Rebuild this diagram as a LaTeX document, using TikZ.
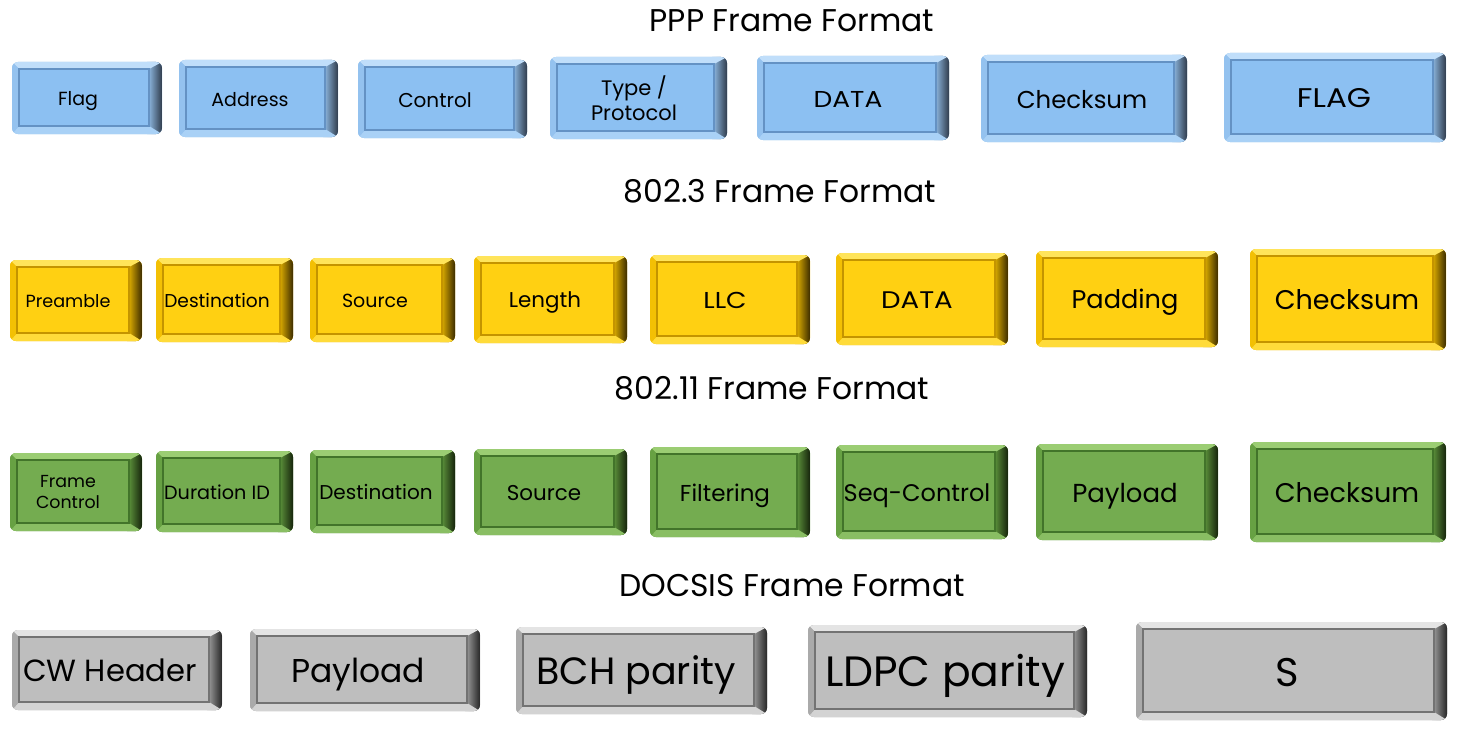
\documentclass[tikz,border=0pt]{standalone}
\usepackage{fontspec}
\setmainfont{Poppins}
\definecolor{Bface}{RGB}{140,192,242}
\definecolor{Bedge}{RGB}{150,195,238}
\definecolor{Blight}{RGB}{192,222,250}
\definecolor{Bdark}{RGB}{48,60,76}
\definecolor{Bline}{RGB}{100,146,196}
\definecolor{Yface}{RGB}{255,208,18}
\definecolor{Yedge}{RGB}{240,188,0}
\definecolor{Ylight}{RGB}{255,228,90}
\definecolor{Ydark}{RGB}{60,44,0}
\definecolor{Yline}{RGB}{196,148,0}
\definecolor{Gface}{RGB}{116,172,80}
\definecolor{Gedge}{RGB}{100,158,64}
\definecolor{Glight}{RGB}{155,205,115}
\definecolor{Gdark}{RGB}{22,36,12}
\definecolor{Gline}{RGB}{66,116,42}
\definecolor{Kface}{RGB}{190,190,190}
\definecolor{Kedge}{RGB}{165,165,165}
\definecolor{Klight}{RGB}{228,228,228}
\definecolor{Kdark}{RGB}{38,38,38}
\definecolor{Kline}{RGB}{115,115,115}
\tikzset{
  titletext/.style={font=\fontsize{15.7pt}{18pt}\selectfont, text height=11pt, text depth=0pt, inner sep=0pt},
}
% #1 name, #2 x1, #3 y1, #4 x2, #5 y2, #6 scheme
\newcommand\mybevelbody[6]{%
  \fill[#6edge, rounded corners=3pt] (#2,#3) rectangle (#4,#5);
  \begin{scope}
    \clip[rounded corners=3pt] (#2,#3) rectangle (#4,#5);
    \shade[left color=#6edge, right color=#6dark] (#4-15,#3) rectangle (#4,#5);
    \fill[#6light] (#2,#3) -- (#4,#3) -- (#4-13,#3+7) -- (#2+7,#3+7) -- cycle;
    \fill[#6light!55!#6face] (#2,#5) -- (#4,#5) -- (#4-13,#5-8) -- (#2+7,#5-8) -- cycle;
    \fill[#6edge!80!#6face] (#2,#3) -- (#2+7,#3+7) -- (#2+7,#5-8) -- (#2,#5) -- cycle;
  \end{scope}
  \fill[#6face, draw=#6line, line width=0.6pt] (#2+7,#3+7) rectangle (#4-13,#5-8);
}
% #7 font size (pt), #8 text centre x, #9 text
\newcommand\mybevel[9]{%
  \mybevelbody{#1}{#2}{#3}{#4}{#5}{#6}%
  \node[font=\fontsize{#7pt}{\dimexpr#7pt*6/5\relax}\selectfont, text height=\dimexpr#7pt*7/10\relax, text depth=0pt, inner sep=0pt]
    (#1) at ({#8},{(#3+#5)/2+1}) {#9};
}
\newcommand\mybevelii[9]{%
  \mybevelbody{#1}{#2}{#3}{#4}{#5}{#6}%
  \node[font=\fontsize{#7pt}{\dimexpr#7pt*6/5\relax}\selectfont, align=center, inner sep=0pt]
    (#1) at ({#8},{(#3+#5)/2}) {#9};
}
\newcommand\wide[2]{\scalebox{#1}[1]{#2}}
\begin{document}
\begin{tikzpicture}[x=0.5pt,y=-0.5pt]
\useasboundingbox (0,0) rectangle (1459,733);
\fill[white] (0,0) rectangle (1459,733);
% titles
\node[titletext] (t1) at (792,21) {PPP Frame Format};
\node[titletext] (t2) at (780,191) {802.3 Frame Format};
\node[titletext] (t3) at (772,388) {802.11 Frame Format};
\node[titletext] (t4) at (792,585) {DOCSIS Frame Format};
% PPP
\mybevel{p1}{12}{62}{162}{134}{B}{9.5}{78}{Flag}
\mybevel{p2}{179}{60}{338}{137}{B}{9.5}{250}{Address}
\mybevel{p3}{358}{60}{527}{138}{B}{10}{435}{Control}
\mybevelii{p4}{550}{57}{727}{139}{B}{10.5}{634}{Type /\\Protocol}
\mybevel{p5}{757}{56}{949}{140}{B}{11.5}{848}{\wide{1.15}{DATA}}
\mybevel{p6}{981}{55}{1187}{142}{B}{12.2}{1082}{Checksum}
\mybevel{p7}{1224}{53}{1446}{142}{B}{13.5}{1334}{\wide{1.15}{FLAG}}
% 802.3
\mybevel{e1}{10}{260}{142}{341}{Y}{8.8}{68}{Preamble}
\mybevel{e2}{156}{258}{293}{342}{Y}{9.3}{217}{Destination}
\mybevel{e3}{310}{258}{455}{342}{Y}{9.5}{375}{Source}
\mybevel{e4}{474}{256}{627}{343}{Y}{10.7}{545}{Length}
\mybevel{e5}{650}{255}{810}{344}{Y}{11.5}{725}{\wide{1.15}{LLC}}
\mybevel{e6}{836}{253}{1008}{345}{Y}{12}{917}{\wide{1.15}{DATA}}
\mybevel{e7}{1036}{251}{1218}{347}{Y}{12.8}{1125}{Padding}
\mybevel{e8}{1250}{249}{1446}{350}{Y}{13.5}{1347}{Checksum}
% 802.11
\mybevelii{w1}{10}{453}{142}{531}{G}{8.7}{68}{Frame\\Control}
\mybevel{w2}{156}{451}{293}{532}{G}{9.6}{217}{Duration ID}
\mybevel{w3}{310}{450}{455}{533}{G}{10}{376}{Destination}
\mybevel{w4}{474}{449}{627}{535}{G}{10.7}{544}{Source}
\mybevel{w5}{650}{447}{810}{537}{G}{11.5}{725}{Filtering}
\mybevel{w6}{836}{445}{1008}{539}{G}{12}{917}{Seq-Control}
\mybevel{w7}{1036}{444}{1218}{540}{G}{13}{1125}{Payload}
\mybevel{w8}{1250}{442}{1446}{542}{G}{13.5}{1347}{Checksum}
% DOCSIS
\mybevel{d1}{12}{630}{222}{710}{K}{15.3}{110}{CW Header}
\mybevel{d2}{250}{629}{480}{711}{K}{16.5}{358}{Payload}
\mybevel{d3}{516}{627}{767}{714}{K}{19}{636}{BCH parity}
\mybevel{d4}{808}{625}{1087}{717}{K}{21.2}{945}{LDPC parity}
\mybevel{d5}{1136}{622}{1447}{720}{K}{20}{1287}{S}
\end{tikzpicture}
\end{document}
